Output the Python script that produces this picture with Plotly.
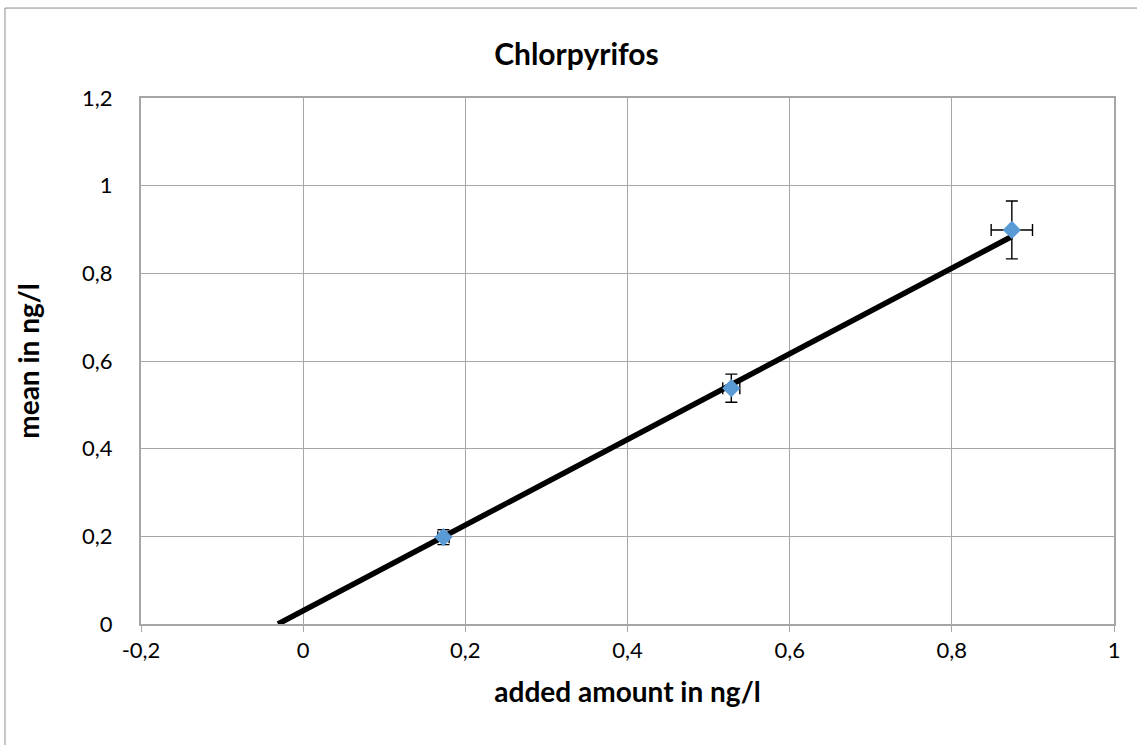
import plotly.graph_objects as go

# measured points (added amount vs mean), ng/l
added = [0.173, 0.528, 0.874]
mean = [0.198, 0.538, 0.899]
err_x = [0.007, 0.0105, 0.0255]
err_y = [0.017, 0.032, 0.066]

# linear trendline end points
trend_x = [-0.031, 0.874]
trend_y = [0.0, 0.884]

x_ticks = [-0.2, 0, 0.2, 0.4, 0.6, 0.8, 1]
x_labels = ["-0,2", "0", "0,2", "0,4", "0,6", "0,8", "1"]
y_ticks = [0, 0.2, 0.4, 0.6, 0.8, 1, 1.2]
y_labels = ["0", "0,2", "0,4", "0,6", "0,8", "1", "1,2"]

font_name = "Lato"
grid = "#a6a6a6"

fig = go.Figure()

fig.add_trace(go.Scatter(
    x=trend_x, y=trend_y, mode="lines",
    line=dict(color="black", width=5.5),
    showlegend=False, hoverinfo="skip"
))

fig.add_trace(go.Scatter(
    x=added, y=mean, mode="markers",
    marker=dict(symbol="diamond", size=14, color="#5b9bd5"),
    error_x=dict(type="data", array=err_x, color="black", thickness=1.4, width=6),
    error_y=dict(type="data", array=err_y, color="black", thickness=1.4, width=6),
    showlegend=False
))

fig.update_layout(
    width=1137, height=745,
    margin=dict(l=141, r=23, t=98, b=121),
    paper_bgcolor="white", plot_bgcolor="white",
    font=dict(family=font_name, size=22, color="black"),
    title=dict(text="<b>Chlorpyrifos</b>", x=0.507, xanchor="center",
               y=0.927, yanchor="middle", font=dict(size=30)),
    xaxis=dict(
        range=[-0.2, 1], tickvals=x_ticks, ticktext=x_labels,
        showgrid=True, gridcolor=grid, gridwidth=1, zeroline=False,
        showline=True, linecolor=grid, linewidth=2, mirror=True,
        ticks="outside", ticklen=6, tickcolor=grid, tickwidth=1,
        title=dict(text="<b>added amount in ng/l</b>", font=dict(size=28), standoff=20),
    ),
    yaxis=dict(
        range=[0, 1.2], tickvals=y_ticks, ticktext=y_labels,
        showgrid=True, gridcolor=grid, gridwidth=1, zeroline=False,
        showline=True, linecolor=grid, linewidth=2, mirror=True,
        ticks="", ticklabelstandoff=22,
        title=dict(text="<b>mean in ng/l</b>", font=dict(size=28), standoff=34),
    ),
    shapes=[dict(
        type="rect", xref="paper", yref="paper",
        x0=-0.1398, x1=1.1, y0=-0.3, y1=1.171,
        line=dict(color="#8c8c8c", width=1), fillcolor="rgba(0,0,0,0)", layer="below"
    )],
)

fig.write_html("out.html", config={"displayModeBar": False},
               post_script="document.body.style.margin='0px';")
